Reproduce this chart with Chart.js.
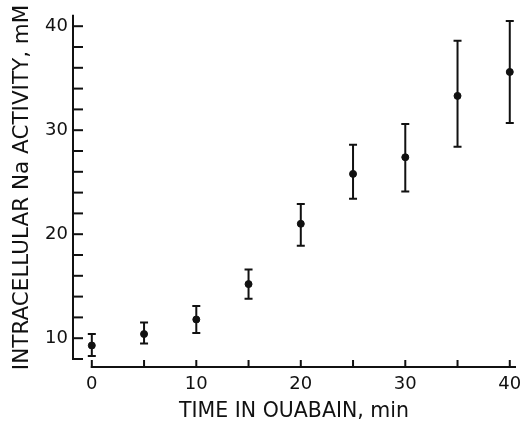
<!DOCTYPE html>
<html>
<head>
<meta charset="utf-8">
<script src="https://cdn.jsdelivr.net/npm/chart.js@4"></script>
<style>
  body { margin: 0; background: #fff; }
  #wrap { width: 524px; height: 424px; }
</style>
</head>
<body>
<div id="wrap"><canvas id="chart" width="524" height="424"></canvas></div>
<script>
// values
const timeMin = [0, 5, 10, 15, 20, 25, 30, 35, 40];
const naMean = [9.3, 10.4, 11.8, 15.2, 21.0, 25.8, 27.4, 33.3, 35.6];
const naLow = [8.3, 9.5, 10.5, 13.8, 18.9, 23.4, 24.1, 28.4, 30.7];
const naHigh = [10.4, 11.5, 13.1, 16.6, 22.9, 28.6, 30.6, 38.6, 40.5];

const xTicks = [0, 10, 20, 30, 40];
const yTicks = [10, 20, 30, 40];
const xMinorStep = 5;
const yMinorStep = 2;

const ink = '#111';
const font = "'DejaVu Sans', Verdana, sans-serif";

// axis lines + inward ticks, drawn with the chart's scales
const axesPlugin = {
  id: 'axes',
  afterDraw(chart) {
    const { ctx, chartArea, scales: { x, y } } = chart;
    ctx.save();
    ctx.strokeStyle = ink;
    ctx.lineWidth = 2;
    ctx.lineCap = 'square';

    // y axis
    const ax = chartArea.left;
    ctx.beginPath();
    ctx.moveTo(ax, y.getPixelForValue(y.min));
    ctx.lineTo(ax, y.getPixelForValue(y.max));
    ctx.stroke();
    for (let v = y.min; v <= 40; v += yMinorStep) {
      const py = y.getPixelForValue(v);
      ctx.beginPath();
      ctx.moveTo(ax, py);
      ctx.lineTo(ax + 9, py);
      ctx.stroke();
    }

    // x axis, detached below the plot
    const ay = y.getPixelForValue(y.min) + 8;
    ctx.beginPath();
    ctx.moveTo(x.getPixelForValue(0), ay);
    ctx.lineTo(x.getPixelForValue(x.max), ay);
    ctx.stroke();
    for (let v = 0; v <= 40; v += xMinorStep) {
      const px = x.getPixelForValue(v);
      ctx.beginPath();
      ctx.moveTo(px, ay);
      ctx.lineTo(px, ay - 6);
      ctx.stroke();
    }
    ctx.restore();
  }
};

// vertical error bars with caps
const errorBars = {
  id: 'errorBars',
  afterDatasetsDraw(chart) {
    const { ctx, scales: { x, y } } = chart;
    ctx.save();
    ctx.strokeStyle = ink;
    ctx.lineWidth = 2;
    timeMin.forEach((t, i) => {
      const px = x.getPixelForValue(t);
      const top = y.getPixelForValue(naHigh[i]);
      const bot = y.getPixelForValue(naLow[i]);
      ctx.beginPath();
      ctx.moveTo(px, top);
      ctx.lineTo(px, bot);
      ctx.moveTo(px - 4, top);
      ctx.lineTo(px + 4, top);
      ctx.moveTo(px - 4, bot);
      ctx.lineTo(px + 4, bot);
      ctx.stroke();
    });
    ctx.restore();
  }
};

new Chart(document.getElementById('chart'), {
  type: 'scatter',
  data: {
    datasets: [{
      data: timeMin.map((t, i) => ({ x: t, y: naMean[i] })),
      backgroundColor: ink,
      borderColor: ink,
      pointRadius: 3.5,
      pointHoverRadius: 3.5
    }]
  },
  options: {
    responsive: false,
    animation: false,
    events: [],
    layout: { padding: { top: 14, right: 9, left: 0, bottom: 0 } },
    plugins: {
      legend: { display: false },
      tooltip: { enabled: false }
    },
    scales: {
      x: {
        type: 'linear',
        min: -1.8,
        max: 40.5,
        grid: { display: false, drawTicks: false },
        border: { display: false },
        afterBuildTicks: s => { s.ticks = xTicks.map(v => ({ value: v })); },
        afterFit: s => {
          s.height = 65;
          // tick padding should not eat into the plot width
          s.paddingLeft = 0;
          s.paddingRight = 0;
        },
        ticks: {
          color: ink,
          padding: 15,
          font: { family: font, size: 18 }
        },
        title: {
          display: true,
          text: 'TIME IN OUABAIN, min',
          color: ink,
          padding: { top: 0, bottom: 0 },
          font: { family: font, size: 20.5 }
        }
      },
      y: {
        type: 'linear',
        min: 8,
        max: 41,
        grid: { display: false, drawTicks: false },
        border: { display: false },
        afterBuildTicks: s => { s.ticks = yTicks.map(v => ({ value: v })); },
        afterFit: s => { s.width = 73; },
        ticks: {
          color: ink,
          padding: 5,
          font: { family: font, size: 18 }
        },
        title: {
          display: true,
          text: 'INTRACELLULAR Na ACTIVITY, mM',
          color: ink,
          padding: { top: 10, bottom: 0 },
          font: { family: font, size: 21.5 }
        }
      }
    }
  },
  plugins: [axesPlugin, errorBars]
});
</script>
</body>
</html>
